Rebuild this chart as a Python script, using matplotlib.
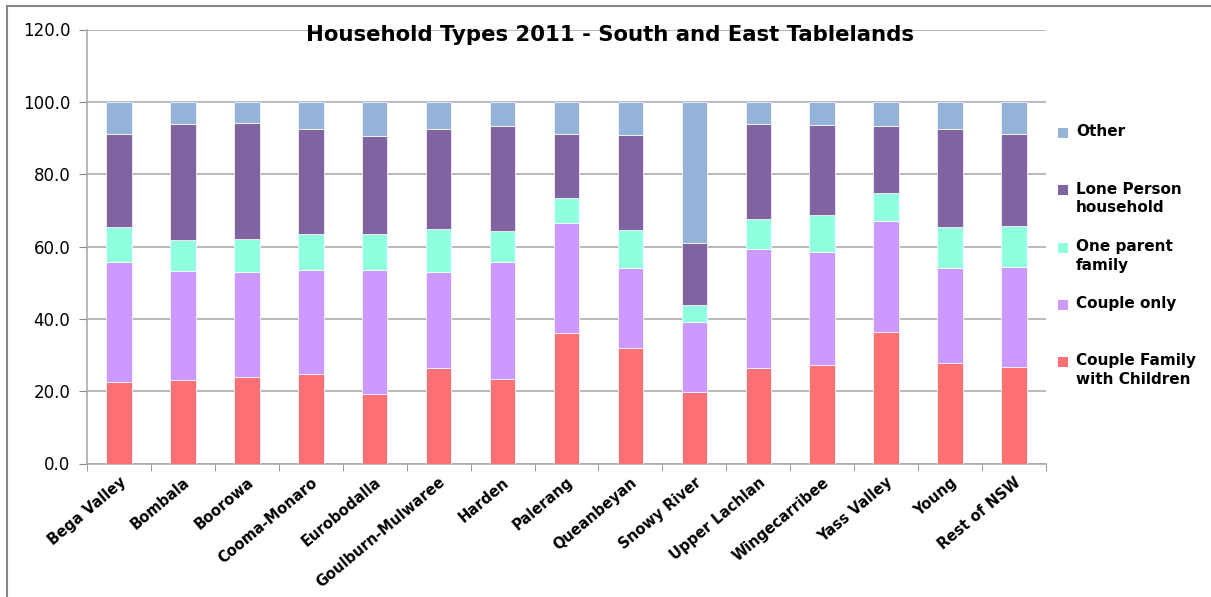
import numpy as np
import matplotlib
matplotlib.use("Agg")
import matplotlib.pyplot as plt
from matplotlib.patches import Rectangle

plt.rcParams['font.family'] = ['DejaVu Sans']

# ----------------------------
# Data (percent of households)
# ----------------------------
regions = ["Bega Valley", "Bombala", "Boorowa", "Cooma-Monaro", "Eurobodalla",
           "Goulburn-Mulwaree", "Harden", "Palerang", "Queanbeyan", "Snowy River",
           "Upper Lachlan", "Wingecarribee", "Yass Valley", "Young", "Rest of NSW"]

couple_children = [22.6, 23.0, 23.9, 24.8, 19.3, 26.5, 23.5, 36.0, 32.0, 19.9, 26.5, 27.2, 36.4, 27.7, 26.6]
couple_only     = [33.0, 30.2, 29.1, 28.8, 34.1, 26.5, 32.1, 30.5, 22.0, 19.1, 32.9, 31.4, 30.7, 26.3, 27.7]
one_parent      = [9.9, 8.7, 9.2, 9.9, 10.1, 11.9, 8.8, 6.8, 10.7, 4.8, 8.2, 10.2, 7.7, 11.3, 11.4]
lone_person     = [25.7, 32.0, 31.9, 29.0, 27.1, 27.7, 28.9, 17.8, 26.1, 17.1, 26.3, 24.8, 18.5, 27.2, 25.5]
other           = [8.8, 6.1, 5.9, 7.5, 9.4, 7.4, 6.7, 8.9, 9.2, 39.1, 6.1, 6.4, 6.7, 7.5, 8.8]

series_names = ["Couple Family\nwith Children", "Couple only", "One parent\nfamily",
                "Lone Person\nhousehold", "Other"]
series_vals = [couple_children, couple_only, one_parent, lone_person, other]
colors = ["#FF7074", "#CC99FF", "#8FFFE0", "#8064A2", "#93B3D8"]

yticks = [0, 20, 40, 60, 80, 100, 120]

# ----------------------------
# Figure
# ----------------------------
fig = plt.figure(figsize=(12.11, 5.97), dpi=100)
ax = fig.add_axes([87/1211, 1 - 463.5/597, 959/1211, 434/597])

x = np.arange(len(regions))
bottom = np.zeros(len(regions))
for name, vals, c in zip(series_names, series_vals, colors):
    ax.bar(x, vals, width=0.4, bottom=bottom, color=c, edgecolor="white",
           linewidth=0.5, zorder=3, label=name)
    bottom += np.array(vals)

ax.set_xlim(-0.5, len(regions) - 0.5)
ax.set_ylim(0, 120)
ax.set_yticks(yticks)
ax.set_yticklabels([f"{v:.1f}" for v in yticks], fontsize=12)
ax.yaxis.grid(True, color="#A6A6A6", linewidth=1.1, zorder=0)

ax.set_xticks(x)
ax.set_xticklabels(regions, rotation=40, ha="right", rotation_mode="anchor",
                   fontsize=10.5, fontweight="bold")
ax.set_xticks(np.arange(len(regions) + 1) - 0.5, minor=True)
ax.tick_params(axis="x", which="major", length=0, pad=8)
ax.tick_params(axis="x", which="minor", length=5, color="#888888")
ax.tick_params(axis="y", length=6, color="#888888", pad=6)

for s in ["top", "right"]:
    ax.spines[s].set_visible(False)
for s in ["left", "bottom"]:
    ax.spines[s].set_color("#A6A6A6")
    ax.spines[s].set_linewidth(1.1)

fig.text(610/1211, 1 - 35/597, "Household Types 2011 - South and East Tablelands",
         ha="center", va="center", fontsize=15.3, fontweight="bold")

# legend, reversed order, first line of each entry evenly spaced
for i, (name, c) in enumerate(zip(series_names[::-1], colors[::-1])):
    yp = 133 + i * 57.25
    fig.patches.append(Rectangle((1058/1211, 1 - (yp + 5)/597), 10/1211, 10/597,
                                 transform=fig.transFigure, facecolor=c, edgecolor="none"))
    fig.text(1076/1211, 1 - (yp - 8.5)/597, name, ha="left", va="top",
             fontsize=11, fontweight="bold", linespacing=1.3)

# outer chart frame
fig.patches.append(Rectangle((7/1211, -0.1), 1.2, 1.1 - 6/597, transform=fig.transFigure,
                             facecolor="none", edgecolor="#888888", linewidth=1.5))

fig.savefig("out.png", dpi=100)
